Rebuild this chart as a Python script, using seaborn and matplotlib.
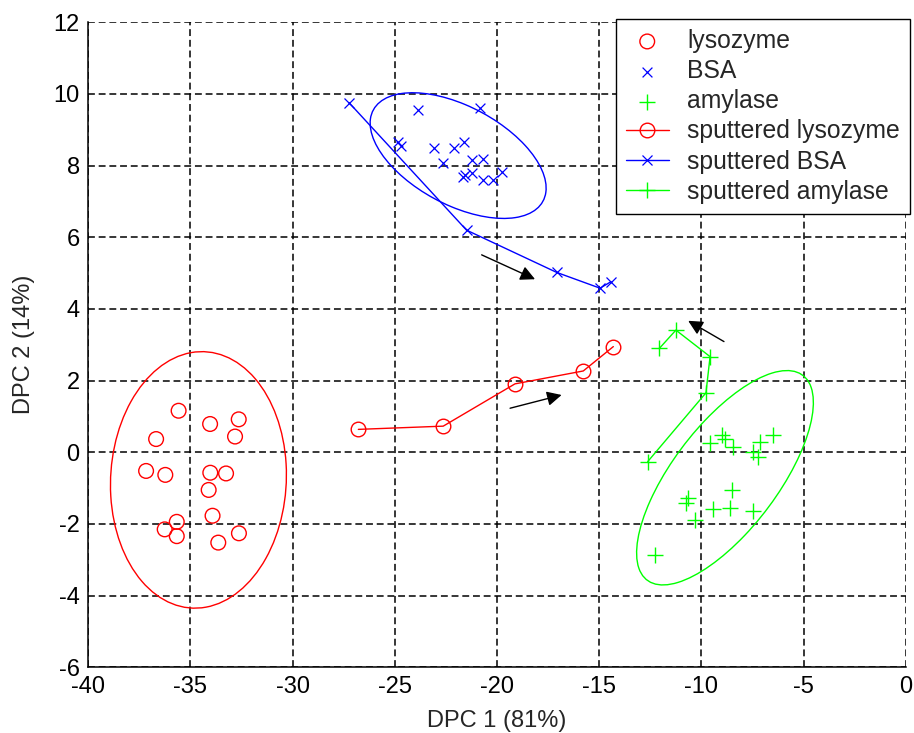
import matplotlib
matplotlib.use("Agg")
import matplotlib.pyplot as plt
from matplotlib.patches import Ellipse
import seaborn as sns

# protein clusters (DPC 1, DPC 2)
lyso_x = [-35.57, -34.03, -32.63, -32.81, -36.67, -37.16, -36.22, -34.02,
          -33.25, -34.10, -33.91, -35.66, -36.25, -35.66, -32.62, -33.63]
lyso_y = [1.16, 0.79, 0.92, 0.44, 0.37, -0.52, -0.63, -0.57,
          -0.59, -1.05, -1.77, -1.94, -2.15, -2.34, -2.26, -2.52]

bsa_x = [-23.85, -20.83, -24.83, -24.69, -23.08, -22.10, -21.61, -22.63,
         -21.24, -20.70, -21.65, -21.57, -21.24, -20.67, -20.18, -19.77]
bsa_y = [9.55, 9.60, 8.67, 8.55, 8.48, 8.48, 8.67, 8.08,
         8.16, 8.18, 7.69, 7.74, 7.79, 7.60, 7.60, 7.83]

amy_x = [-9.01, -9.58, -8.85, -8.44, -6.49, -7.14, -7.46, -7.22,
         -8.53, -10.65, -10.76, -9.42, -8.61, -7.46, -10.32, -12.27]
amy_y = [0.48, 0.25, 0.36, 0.16, 0.48, 0.30, 0.02, -0.12,
         -1.05, -1.28, -1.42, -1.59, -1.56, -1.63, -1.89, -2.87]

# sputtered samples (time series)
sp_lyso_x = [-26.78, -22.63, -19.12, -15.78, -14.31]
sp_lyso_y = [0.64, 0.73, 1.91, 2.27, 2.95]

sp_bsa_x = [-27.24, -21.49, -17.08, -14.96, -14.43]
sp_bsa_y = [9.76, 6.20, 5.02, 4.58, 4.76]

sp_amy_x = [-12.63, -9.78, -9.58, -11.25, -12.06]
sp_amy_y = [-0.26, 1.66, 2.67, 3.41, 2.90]

# confidence ellipses: centre x, centre y, width, height, angle
ell_lyso = [-34.6, -0.77, 8.62, 7.14, 6.0]
ell_bsa = [-21.9, 8.28, 8.82, 2.93, -13.4]
ell_amy = [-8.85, -0.71, 9.82, 3.75, 30.9]

# arrows: start (x, y), end (x, y)
arrow_starts = [(-19.36, 1.23), (-20.75, 5.51), (-8.90, 3.09)]
arrow_ends = [(-16.84, 1.60), (-18.14, 4.83), (-10.65, 3.67)]

GREEN = '#00ff00'

sns.set_style("white")
plt.rcParams['font.family'] = ['Liberation Sans', 'DejaVu Sans']
plt.rcParams['axes.unicode_minus'] = False
fs = 17

fig = plt.figure(figsize=(9.14, 7.33), dpi=100)
ax = fig.add_axes([0.0963, 0.0896, 0.8949, 0.88])

sns.scatterplot(x=lyso_x, y=lyso_y, marker='o', s=112, color='red',
                facecolor='none', edgecolor='red', linewidth=1.0,
                label='lysozyme', ax=ax, zorder=3)
sns.scatterplot(x=bsa_x, y=bsa_y, marker='x', s=50, color='blue',
                linewidth=0.9, label='BSA', ax=ax, zorder=3)
sns.scatterplot(x=amy_x, y=amy_y, marker='+', s=125, color=GREEN,
                linewidth=1.0, label='amylase', ax=ax, zorder=3)

sns.lineplot(x=sp_lyso_x, y=sp_lyso_y, sort=False, estimator=None,
             color='red', marker='o', markersize=10.5, mfc='none', mec='red',
             mew=1.0, lw=1.0, label='sputtered lysozyme', ax=ax, zorder=3)
sns.lineplot(x=sp_bsa_x, y=sp_bsa_y, sort=False, estimator=None,
             color='blue', marker='x', markersize=7, mfc='blue', mec='blue',
             mew=0.9, lw=1.0, label='sputtered BSA', ax=ax, zorder=3)
sns.lineplot(x=sp_amy_x, y=sp_amy_y, sort=False, estimator=None,
             color=GREEN, marker='+', markersize=11, mfc=GREEN, mec=GREEN,
             mew=1.0, lw=1.0, label='sputtered amylase', ax=ax, zorder=3)

for ell, col in [(ell_lyso, 'red'), (ell_bsa, 'blue'), (ell_amy, GREEN)]:
    ax.add_patch(Ellipse((ell[0], ell[1]), ell[2], ell[3], angle=ell[4],
                         fill=False, edgecolor=col, lw=1.0, zorder=2))

for st, en in zip(arrow_starts, arrow_ends):
    ax.annotate('', xy=en, xytext=st,
                arrowprops=dict(arrowstyle='-|>', color='black', lw=1.0,
                                mutation_scale=22, shrinkA=0, shrinkB=0))

ax.set_xlim(-40, 0)
ax.set_ylim(-6, 12)
ax.set_xticks(range(-40, 1, 5))
ax.set_yticks(range(-6, 13, 2))
ax.grid(True, color='black', linestyle=(0, (4.5, 2.5)), lw=1.1)
ax.set_axisbelow(True)
for side in ['top', 'right']:
    ax.spines[side].set_visible(False)
for side in ['left', 'bottom']:
    ax.spines[side].set_color('black')
    ax.spines[side].set_linewidth(1.1)
ax.tick_params(direction='in', length=6, width=1.0, colors='black',
               labelsize=fs, pad=6)

ax.set_xlabel('DPC 1 (81%)', fontsize=fs, labelpad=9)
ax.set_ylabel('DPC 2 (14%)', fontsize=fs, labelpad=13.5)

handles, labels = ax.get_legend_handles_labels()
leg = ax.legend(handles, labels, loc='upper right', bbox_to_anchor=(1.005, 1.005),
                fontsize=17.8, frameon=True, fancybox=False, framealpha=1,
                edgecolor='black', borderpad=0.4, labelspacing=0.25,
                handlelength=1.75, handletextpad=0.75, borderaxespad=0,
                scatterpoints=1, numpoints=1)
leg.get_frame().set_linewidth(1.0)

fig.savefig('out.png', dpi=100)
